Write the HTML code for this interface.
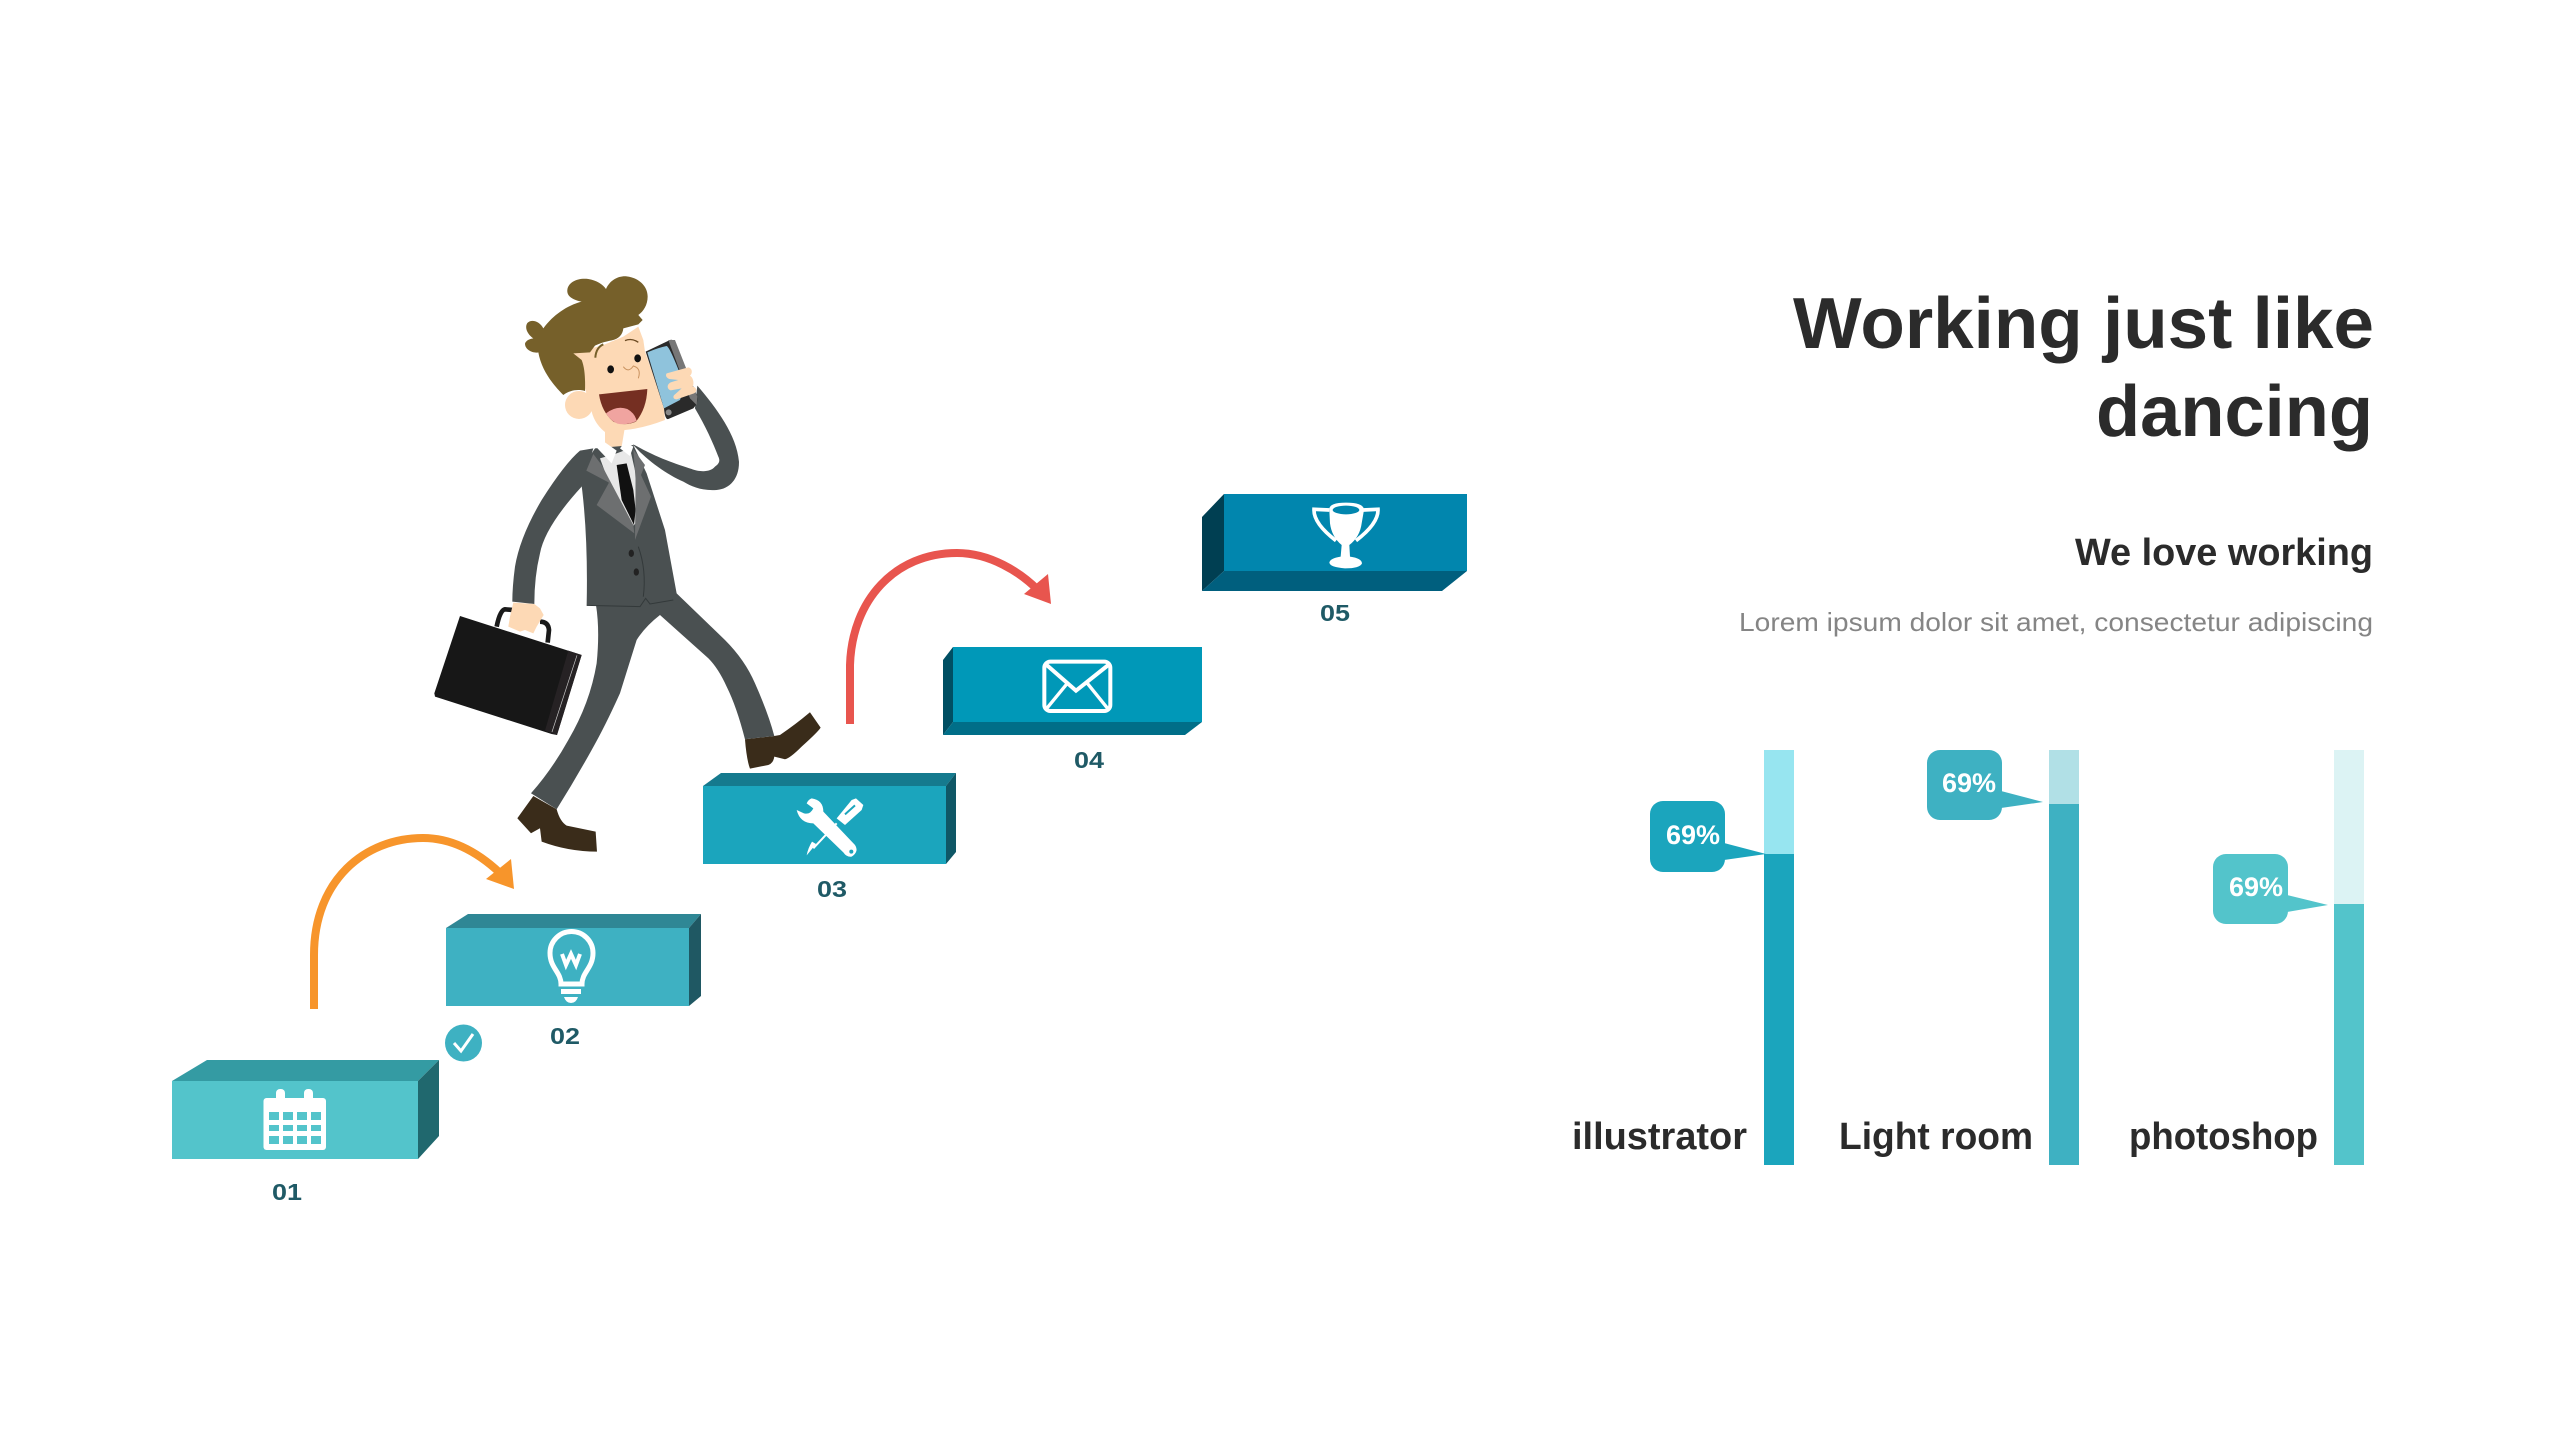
<!DOCTYPE html>
<html><head><meta charset="utf-8"><style>
html,body{margin:0;padding:0;background:#fff;width:2560px;height:1440px;overflow:hidden}
svg{display:block}
text{font-family:"Liberation Sans",sans-serif}
</style></head><body>
<svg width="2560" height="1440" viewBox="0 0 2560 1440" xmlns="http://www.w3.org/2000/svg">
<rect width="2560" height="1440" fill="#fff"/>

<!-- Box 1 -->
<polygon points="172,1081 207,1060 439,1060 418,1081" fill="#349ba3"/>
<polygon points="418,1081 439,1060 439,1136 418,1159" fill="#20686e"/>
<rect x="172" y="1081" width="246" height="78" fill="#53c4cb"/>
<!-- Calendar -->
<rect x="263.5" y="1098" width="62.5" height="52" rx="3" fill="#fff"/>
<rect x="276" y="1089" width="9" height="14" rx="4" fill="#fff"/><rect x="304" y="1089" width="9" height="14" rx="4" fill="#fff"/>
<g fill="#53c4cb">
<rect x="269" y="1112" width="10" height="8"/><rect x="283" y="1112" width="10" height="8"/><rect x="297" y="1112" width="10" height="8"/><rect x="311" y="1112" width="10" height="8"/>
<rect x="269" y="1125" width="10" height="6"/><rect x="283" y="1125" width="10" height="6"/><rect x="297" y="1125" width="10" height="6"/><rect x="311" y="1125" width="10" height="6"/>
<rect x="269" y="1136" width="10" height="8"/><rect x="283" y="1136" width="10" height="8"/><rect x="297" y="1136" width="10" height="8"/><rect x="311" y="1136" width="10" height="8"/>
</g>

<!-- Box 2 -->
<polygon points="446,928 468,914 701,914 689,928" fill="#2f8795"/>
<polygon points="689,928 701,914 701,996 689,1006" fill="#1f5863"/>
<rect x="446" y="928" width="243" height="78" fill="#3eb1c2"/>
<!-- Bulb -->
<path d="M561,984 C561,972 550,968 550,953 A21.5,21.5 0 1 1 593,953 C593,968 582,972 582,984 Z" fill="none" stroke="#fff" stroke-width="5"/>
<rect x="561" y="989" width="20" height="5" fill="#fff"/>
<path d="M564,997 h14 q-2,6 -7,6 q-5,0 -7,-6z" fill="#fff"/>
<polyline points="562,954 566,965 571,954 576,965 580,954" fill="none" stroke="#fff" stroke-width="4"/>

<!-- Check -->
<circle cx="463.5" cy="1043" r="18.5" fill="#3eb1c2"/>
<polyline points="454,1043 461,1051 473,1034" fill="none" stroke="#fff" stroke-width="3"/>

<!-- Box 3 -->
<polygon points="703,786 721,773 956,773 946,786" fill="#157a8e"/>
<polygon points="946,786 956,773 956,852 946,864" fill="#0f5766"/>
<rect x="703" y="786" width="243" height="78" fill="#1ba5bd"/>
<!-- Tools -->
<g transform="translate(780,780) scale(0.3333)">
<path d="M215,60 L228,55 L250,75 L245,90 L195,135 L170,115 Z" fill="#fff"/>
<line x1="195" y1="103" x2="225" y2="76" stroke="#1ba5bd" stroke-width="6"/>
<line x1="170" y1="130" x2="100" y2="205" stroke="#fff" stroke-width="6"/>
<path d="M108,192 L80,226 Q84,205 96,185Z" fill="#fff"/>
<path d="M95,55 Q130,60 130,95 L225,195 Q238,215 215,230 Q200,232 190,217 L100,130 Q60,130 50,90 L72,100 Q90,105 100,85 L80,70 Q85,58 95,55Z" fill="#fff"/>
<circle cx="214" cy="215" r="6" fill="#1ba5bd"/>
</g>

<!-- Box 4 -->
<polygon points="943,660 953,647 953,722 943,735" fill="#004f63"/>
<polygon points="943,735 953,722 1202,722 1185,735" fill="#006e88"/>
<rect x="953" y="647" width="249" height="75" fill="#0098b8"/>
<!-- Envelope -->
<g transform="translate(1030,650) scale(0.3333)" fill="none" stroke="#fff">
<rect x="43" y="35" width="198" height="148" rx="18" stroke-width="12"/>
<polyline points="50,45 138,122 235,45" stroke-width="12"/>
<line x1="48" y1="178" x2="112" y2="100" stroke-width="10"/>
<line x1="235" y1="178" x2="172" y2="100" stroke-width="10"/>
</g>

<!-- Box 5 -->
<polygon points="1202,517 1224,494 1224,571 1202,591" fill="#003f52"/>
<polygon points="1202,591 1224,571 1467,571 1442,591" fill="#005f7e"/>
<rect x="1224" y="494" width="243" height="77" fill="#0186ae"/>
<!-- Trophy -->
<g transform="translate(1300,490) scale(0.3333)">
<path d="M88,60 L42,58 Q40,100 108,152" fill="none" stroke="#fff" stroke-width="11"/>
<path d="M190,60 L234,58 Q236,100 168,152" fill="none" stroke="#fff" stroke-width="11"/>
<path d="M88,60 Q85,38 138,38 Q192,38 192,60 L185,100 Q180,140 148,165 L150,200 Q185,205 186,220 Q180,235 135,235 Q90,232 88,218 Q90,205 122,200 L125,165 Q95,140 90,100Z" fill="#fff"/>
<ellipse cx="138" cy="60" rx="40" ry="13" fill="#0186ae"/>
</g>

<!-- Arrows -->
<path d="M314,1009 L314,955 C314,880 365,838 423,838 C458,838 484,858 500,873" fill="none" stroke="#f7952b" stroke-width="8"/>
<polygon points="514,889 511,859 486,879" fill="#f7952b"/>
<path d="M850,724 L850,665 C852,600 895,553 957,553 C990,553 1020,572 1038,590" fill="none" stroke="#e8554e" stroke-width="8"/>
<polygon points="1051,604 1048,574 1024,594" fill="#e8554e"/>

<!-- Number labels -->
<g font-size="23" font-weight="700" fill="#1f5a66" text-anchor="middle">
<text x="287" y="1200" textLength="30" lengthAdjust="spacingAndGlyphs">01</text>
<text x="565" y="1044" textLength="30" lengthAdjust="spacingAndGlyphs">02</text>
<text x="832" y="897" textLength="30" lengthAdjust="spacingAndGlyphs">03</text>
<text x="1089" y="768" textLength="30" lengthAdjust="spacingAndGlyphs">04</text>
<text x="1335" y="621" textLength="30" lengthAdjust="spacingAndGlyphs">05</text>
</g>

<!-- Man: neck -->
<g transform="translate(510,265) scale(0.3333)">
<path d="M285,490 L345,485 L335,545 L320,565 L285,535Z" fill="#fdd9b5"/>
</g>
<!-- Man: body -->
<g transform="translate(425,430) scale(0.3333)">
<path d="M215,590 Q225,540 240,538 L262,540" fill="none" stroke="#1a1a1a" stroke-width="14"/>
<path d="M345,575 Q370,575 372,600 L368,638" fill="none" stroke="#1a1a1a" stroke-width="14"/>
<path d="M105,558 L470,675 L396,915 L380,912 L30,800 L28,790Z" fill="#171717"/>
<path d="M430,662 L470,675 L396,915 L360,902Z" fill="#262224"/>
<line x1="456" y1="676" x2="381" y2="906" stroke="#ccc" stroke-width="2"/>
<path d="M960,928 L1048,918 L1065,915 Q1110,885 1155,847 L1187,893 Q1180,905 1130,950 Q1095,985 1080,988 L1048,980 Q1045,1000 1030,1005 L975,1016 Q965,990 960,928Z" fill="#3a2c1a"/>
<path d="M325,1098 L395,1138 Q405,1175 425,1187 L512,1205 L516,1265 Q430,1265 350,1235 L345,1195 L318,1210 L277,1165 Z" fill="#3a2c1a"/>
<path d="M513,525 L755,490 L900,630 Q960,690 990,760 Q1030,850 1048,918 L960,928 Q935,830 905,770 Q880,715 850,685 L705,555 Q660,590 635,630 Q610,710 585,790 Q540,890 500,960 Q450,1050 395,1138 L318,1090 Q380,1020 430,930 Q495,820 515,700 Q525,600 513,525Z" fill="#4a5051"/>
<path d="M505,55 L465,62 Q420,100 350,210 Q285,320 270,410 Q262,470 262,515 L328,522 Q328,440 345,370 Q360,290 470,170 Z" fill="#4a5051"/>
<path d="M265,518 L328,522 L345,535 L356,555 L335,590 L325,610 L300,600 L285,605 L250,590 L255,560Z" fill="#fdd9b5"/>
<path d="M465,130 L490,85 L510,55 L625,45 L665,130 L720,300 L755,490 L740,510 L665,525 L650,530 L485,525 Q490,300 465,130Z" fill="#4a5051"/>
<path d="M485,526 L645,530 L662,505 L675,522 L745,510" fill="none" stroke="#33393a" stroke-width="3"/>
<path d="M640,350 Q665,420 655,500" fill="none" stroke="#33393a" stroke-width="3"/>
<path d="M525,85 L575,70 L615,55 L632,130 L632,280 L622,290 L560,180Z" fill="#e8e8e8"/>
<path d="M508,45 L530,30 L575,62 L560,100 Z" fill="#fff"/>
<path d="M585,55 L600,35 L625,50 L615,78 Z" fill="#fff"/>
<path d="M575,105 L605,100 L625,180 L632,240 L627,285 L590,210 Z" fill="#111"/>
<path d="M505,72 L484,122 L552,158 L515,225 L628,310 L625,285 L530,105Z" fill="#6d6f70"/>
<path d="M625,58 L660,105 L648,135 L678,200 L630,330 L632,150Z" fill="#6d6f70"/>
<ellipse cx="619" cy="370" rx="8" ry="11" fill="#222"/>
<ellipse cx="634" cy="426" rx="8" ry="11" fill="#222"/>
</g>
<!-- Man: head and raised arm -->
<g transform="translate(510,265) scale(0.3333)">
<path d="M370,538 C440,578 500,598 545,612 C565,620 600,624 615,605 C630,595 630,585 625,575 C610,535 585,480 555,430 L562,362 C620,430 680,510 687,590 C688,640 660,672 620,675 C575,678 545,665 520,650 C470,628 410,585 370,540Z" fill="#4a5051"/>
<circle cx="207" cy="420" r="42" fill="#fdd9b5"/>
<path d="M190,265 L280,240 L340,215 L385,185 L400,225 L405,260 L430,330 L462,430 L465,465 Q400,490 345,495 L290,505 Q255,480 245,440 L225,370Z" fill="#fdd9b5"/>
<path d="M407,260 L480,225 Q490,222 497,235 L562,395 Q565,415 550,430 L475,462 Q465,465 462,430 Z" fill="#2a2a2a"/>
<path d="M475,225 L495,225 L562,395 L560,420 L540,400Z" fill="#777"/>
<path d="M412,262 Q445,248 470,243 Q480,245 525,365 L510,405 L462,430Z" fill="#8fc3dc"/>
<circle cx="476" cy="442" r="9" fill="#888"/>
<path d="M470,325 L535,307 C548,310 548,325 540,332 C552,340 552,358 548,365 C562,368 562,380 552,385 L500,403 C488,403 488,392 495,388 L515,370 L482,376 C470,372 470,358 482,352 L505,345 L478,342 C468,338 466,330 470,325Z" fill="#fdd9b5"/>
<path d="M172,75 C175,50 205,38 235,42 C260,46 278,58 288,72 C300,45 325,32 350,34 C385,38 413,62 413,95 C413,120 400,140 385,150 L398,165 L385,178 L340,190 C338,210 325,222 305,226 C285,230 268,235 255,242 L240,262 L190,265 L215,285 C225,310 226,345 225,378 C205,372 180,375 160,390 C135,365 95,320 85,262 C72,266 45,256 45,236 C48,226 58,222 70,220 C55,210 42,190 52,174 C65,160 90,170 100,190 C130,150 170,122 215,110 C190,105 170,95 172,75Z" fill="#76602a"/>
<path d="M256,278 Q258,248 280,238" fill="none" stroke="#76602a" stroke-width="6"/>
<ellipse cx="302" cy="313" rx="10" ry="12" fill="#111"/>
<ellipse cx="383" cy="280" rx="10" ry="12" fill="#111"/>
<path d="M345,227 Q365,218 385,232" fill="none" stroke="#6b4a22" stroke-width="4"/>
<path d="M340,305 Q355,325 370,303 Q395,310 385,340" fill="none" stroke="#c9925f" stroke-width="3"/>
<path d="M267,388 L412,372 Q410,430 378,470 Q345,485 310,470 Q275,440 267,388Z" fill="#752f22"/>
<path d="M288,445 Q320,420 352,432 Q375,445 380,468 Q350,482 322,476 Q300,465 288,445Z" fill="#f0a4a0"/>
</g>

<!-- Title -->
<g fill="#2b2b2b" font-weight="700">
<text x="1793" y="348" font-size="72" textLength="581" lengthAdjust="spacingAndGlyphs">Working just like</text>
<text x="2096" y="436" font-size="72" textLength="277" lengthAdjust="spacingAndGlyphs">dancing</text>
<text x="2075" y="565" font-size="38" textLength="298" lengthAdjust="spacingAndGlyphs">We love working</text>
</g>
<text x="1739" y="631" font-size="26" fill="#858585" textLength="634" lengthAdjust="spacingAndGlyphs">Lorem ipsum dolor sit amet, consectetur adipiscing</text>

<!-- Bars -->
<rect x="1764" y="750" width="30" height="104" fill="#97e5f0"/>
<rect x="1764" y="854" width="30" height="311" fill="#1ba5bd"/>
<rect x="2049" y="750" width="30" height="54" fill="#b1e0e6"/>
<rect x="2049" y="804" width="30" height="361" fill="#3eb1c2"/>
<rect x="2334" y="750" width="30" height="154" fill="#dcf3f4"/>
<rect x="2334" y="904" width="30" height="261" fill="#53c4cb"/>

<!-- Bubbles -->
<rect x="1650" y="801" width="75" height="71" rx="13" fill="#1ba5bd"/>
<polygon points="1724,843 1766,854 1724,860" fill="#1ba5bd"/>
<text x="1693" y="844" font-size="27" font-weight="700" fill="#fff" text-anchor="middle">69%</text>
<rect x="1927" y="750" width="75" height="70" rx="13" fill="#3eb1c2"/>
<polygon points="2001,791 2043,802 2001,808" fill="#3eb1c2"/>
<text x="1969" y="792" font-size="27" font-weight="700" fill="#fff" text-anchor="middle">69%</text>
<rect x="2213" y="854" width="75" height="70" rx="13" fill="#53c4cb"/>
<polygon points="2287,895 2328,905 2287,912" fill="#53c4cb"/>
<text x="2256" y="896" font-size="27" font-weight="700" fill="#fff" text-anchor="middle">69%</text>

<!-- Bar labels -->
<g fill="#2b2b2b" font-size="38" font-weight="700">
<text x="1572" y="1149" textLength="175" lengthAdjust="spacingAndGlyphs">illustrator</text>
<text x="1839" y="1149" textLength="194" lengthAdjust="spacingAndGlyphs">Light room</text>
<text x="2129" y="1149" textLength="189" lengthAdjust="spacingAndGlyphs">photoshop</text>
</g>
</svg>
</body></html>
